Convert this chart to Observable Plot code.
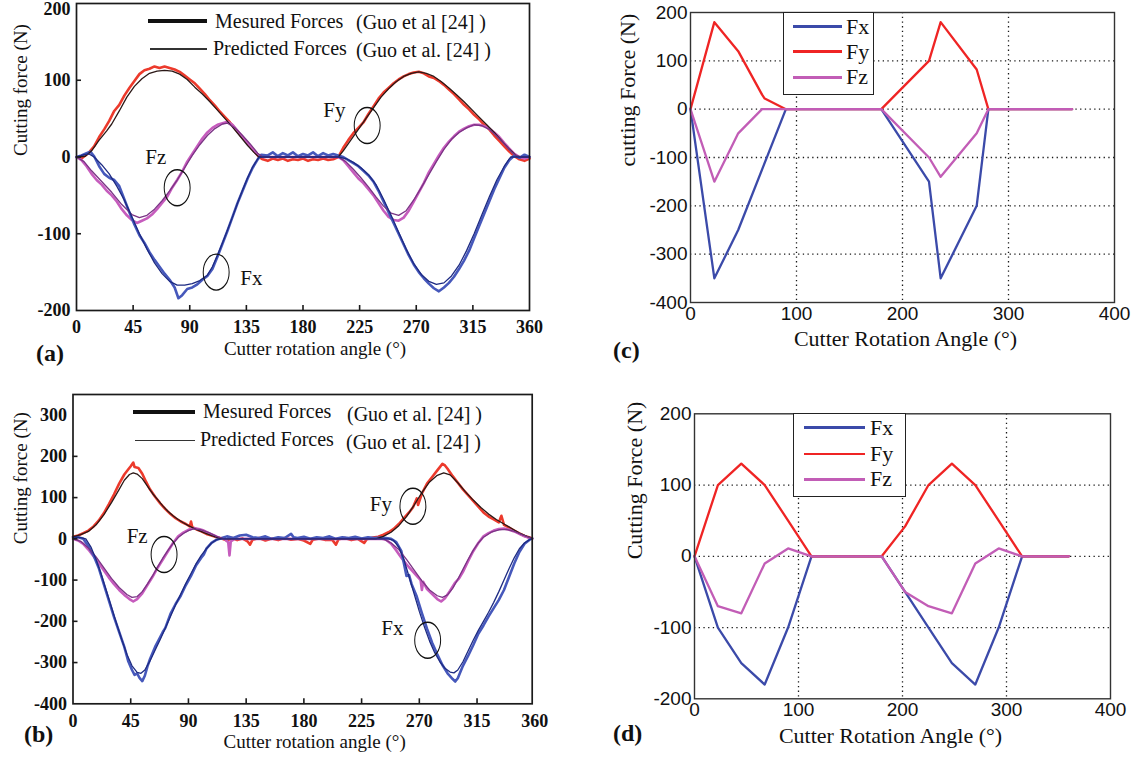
<!DOCTYPE html>
<html><head><meta charset="utf-8">
<script src="https://cdn.jsdelivr.net/npm/d3@7"></script>
<script src="https://cdn.jsdelivr.net/npm/@observablehq/plot@0.6"></script>
<style>
body{margin:0;background:#fff;}
#root{position:relative;width:1139px;height:762px;overflow:hidden;background:#fff;}
.pn{position:absolute;}
.pn svg{overflow:visible;}
.t{position:absolute;white-space:nowrap;color:#111;}
</style></head>
<body><div id="root"></div>
<script>
// ---------------- tick labels ----------------
const GUO_X_TICKS = [0,45,90,135,180,225,270,315,360];
const A_Y_TICKS = [-200,-100,0,100,200];
const B_Y_TICKS = [-400,-300,-200,-100,0,100,200,300];
const SIM_X_TICKS = [0,100,200,300,400];
const C_Y_TICKS = [-400,-300,-200,-100,0,100,200];
const D_Y_TICKS = [-200,-100,0,100,200];
const SERIES_NAMES = ["Fx","Fy","Fz"];

// ---------------- panel (a): [angle, force] ----------------
const aFyMeas = [[0,0],[4,-2],[7,2],[10,6],[14,14],[18,26],[22,36],[26,47],[30,60],[34,68],[38,80],[42,90],[46,99],[50,108],[54,113],[58,115],[62,118],[66,116],[70,118],[74,116],[78,114],[82,111],[86,106],[90,101],[94,96],[98,89],[102,82],[106,74],[110,67],[114,59],[118,52],[122,45],[126,37],[130,29],[134,22],[138,14],[142,6],[145,0],[148,-3],[152,-5],[156,-2],[160,-4],[164,-2],[168,-5],[172,-3],[176,-4],[180,-2],[184,-5],[188,-3],[192,-4],[196,-2],[200,-4],[204,-3],[208,0],[212,12],[216,22],[220,31],[224,38],[228,45],[232,56],[236,66],[240,76],[244,84],[248,90],[252,96],[256,101],[260,105],[264,108],[268,110],[272,111],[276,109],[280,105],[284,103],[288,99],[292,94],[296,88],[300,82],[304,75],[308,68],[312,62],[316,55],[320,49],[324,42],[328,36],[332,28],[336,21],[340,14],[344,7],[348,1],[352,-3],[356,-5],[360,-2]];
const aFyPred = [[0,0],[7,1],[12,8],[18,22],[24,34],[28,43],[34,60],[40,78],[46,92],[52,102],[58,109],[64,112],[70,113],[76,112],[82,108],[88,101],[94,91],[100,82],[106,72],[112,61],[118,50],[124,39],[130,27],[136,15],[141,6],[145,0],[208,0],[212,8],[218,22],[224,36],[230,50],[236,64],[242,78],[248,89],[254,98],[260,105],[266,109],[272,111],[278,109],[284,105],[290,98],[296,90],[302,81],[308,72],[314,62],[320,52],[326,42],[332,32],[338,21],[344,10],[350,1],[354,0],[360,0]];
const aFzMeas = [[0,0],[4,-4],[8,-12],[12,-22],[16,-30],[20,-36],[24,-44],[28,-50],[32,-58],[36,-68],[40,-76],[44,-82],[48,-86],[52,-83],[56,-80],[60,-75],[64,-68],[68,-60],[72,-52],[76,-40],[80,-30],[84,-19],[88,-6],[92,4],[96,14],[100,24],[104,32],[108,38],[112,42],[116,44],[120,46],[124,42],[128,34],[132,26],[136,18],[140,10],[144,3],[148,0],[178,0],[208,0],[212,-4],[216,-12],[220,-20],[224,-28],[228,-34],[232,-42],[236,-50],[240,-60],[244,-70],[248,-78],[252,-82],[256,-83],[260,-79],[264,-70],[268,-58],[272,-46],[276,-34],[280,-20],[284,-9],[288,2],[292,12],[296,20],[300,27],[304,33],[308,37],[312,40],[316,42],[320,42],[324,40],[328,37],[332,32],[336,26],[340,18],[344,11],[348,4],[352,0],[356,-2],[360,0]];
const aFzPred = [[0,0],[6,-6],[12,-18],[20,-32],[28,-46],[36,-62],[44,-75],[50,-79],[56,-76],[62,-68],[68,-57],[74,-44],[80,-30],[86,-14],[92,2],[98,16],[104,28],[110,37],[116,43],[120,44],[126,38],[132,28],[138,17],[144,5],[148,0],[208,0],[214,-6],[220,-16],[226,-27],[232,-39],[238,-52],[244,-64],[250,-73],[256,-76],[262,-70],[268,-56],[274,-40],[280,-23],[286,-6],[292,10],[298,23],[304,32],[310,38],[316,42],[322,41],[328,36],[334,27],[340,17],[346,6],[351,0],[360,0]];
const aFxMeas = [[0,0],[4,2],[8,5],[11,7],[14,1],[18,-12],[22,-22],[26,-27],[30,-30],[34,-38],[38,-55],[42,-72],[46,-88],[50,-102],[54,-112],[58,-124],[62,-134],[66,-143],[70,-152],[74,-160],[78,-170],[81,-184],[84,-180],[88,-172],[92,-170],[96,-166],[100,-160],[104,-155],[108,-146],[112,-130],[116,-113],[120,-96],[124,-78],[128,-60],[132,-44],[136,-28],[140,-14],[144,-3],[147,3],[152,2],[156,6],[160,1],[164,5],[168,2],[172,6],[176,1],[180,4],[184,2],[188,6],[192,1],[196,5],[200,2],[204,4],[208,2],[212,0],[216,-4],[220,-8],[224,-12],[228,-18],[232,-24],[236,-32],[240,-44],[244,-58],[248,-72],[252,-86],[256,-100],[260,-114],[264,-128],[268,-140],[272,-150],[276,-158],[280,-165],[284,-171],[288,-175],[292,-170],[296,-164],[300,-156],[304,-146],[308,-135],[312,-122],[316,-106],[320,-90],[324,-74],[328,-58],[332,-42],[336,-28],[340,-14],[344,-4],[348,2],[352,-1],[356,3],[360,0]];
const aFxPred = [[0,0],[6,3],[10,4],[14,0],[20,-10],[26,-22],[32,-38],[38,-56],[44,-78],[50,-100],[56,-120],[62,-138],[68,-152],[74,-162],[80,-167],[86,-167],[92,-165],[98,-161],[104,-154],[108,-143],[112,-128],[116,-112],[120,-95],[124,-78],[128,-60],[132,-43],[136,-27],[140,-13],[145,0],[208,0],[214,-2],[220,-7],[226,-14],[232,-23],[238,-36],[244,-55],[250,-76],[256,-98],[262,-120],[268,-139],[274,-153],[280,-162],[286,-166],[292,-164],[298,-155],[304,-141],[310,-122],[316,-100],[322,-76],[328,-52],[334,-30],[340,-12],[345,0],[360,0]];
// circled annotations: [angle, force] and labels [text, angle, force]
const aEllipses = [[80,-40],[231,41],[111,-150]];
const aLabels = [["Fz",63,0],["Fy",205,61],["Fx",139,-158]];

// ---------------- panel (b) ----------------
const bFyMeas = [[0,5],[4,8],[8,14],[12,20],[16,30],[20,44],[24,62],[28,84],[32,108],[36,134],[40,156],[43,168],[45,176],[47,185],[48,174],[51,172],[54,158],[57,138],[60,120],[64,102],[68,86],[72,72],[76,60],[80,50],[84,42],[88,36],[91,30],[92,42],[93,28],[97,22],[100,18],[104,12],[108,8],[112,4],[116,1],[120,-4],[124,2],[128,-3],[132,1],[136,-6],[138,-14],[140,-2],[145,2],[150,-4],[155,1],[160,-3],[165,2],[170,-2],[175,0],[180,-4],[185,-12],[187,-2],[192,1],[197,-3],[202,-2],[205,-14],[207,-1],[212,2],[217,-3],[222,0],[227,-10],[229,-1],[234,3],[238,5],[242,10],[246,16],[250,24],[254,36],[258,50],[262,64],[265,76],[268,98],[269,82],[272,110],[276,134],[280,150],[284,166],[286,174],[288,182],[290,178],[292,170],[296,152],[300,136],[304,120],[308,106],[312,92],[316,78],[320,64],[324,54],[328,47],[332,40],[334,56],[336,34],[340,27],[344,20],[348,13],[352,7],[356,3],[358,1]];
const bFyPred = [[0,5],[6,10],[12,18],[18,34],[24,58],[30,88],[36,120],[40,142],[44,156],[47,160],[50,157],[54,146],[58,128],[62,110],[66,95],[70,80],[74,67],[78,56],[82,47],[86,39],[90,32],[96,23],[102,15],[108,8],[114,2],[118,0],[236,0],[242,6],[248,16],[254,32],[260,54],[266,82],[272,112],[278,138],[284,154],[289,160],[294,155],[300,136],[306,114],[312,94],[318,76],[324,60],[330,47],[336,36],[342,25],[348,14],[354,6],[358,2]];
const bFzMeas = [[0,0],[4,-4],[8,-12],[12,-26],[16,-42],[20,-58],[24,-76],[28,-94],[32,-110],[36,-124],[40,-136],[44,-146],[47,-152],[50,-146],[54,-132],[58,-112],[62,-92],[66,-70],[70,-50],[74,-30],[78,-10],[82,6],[86,15],[90,22],[94,26],[98,24],[102,20],[106,14],[110,8],[114,2],[118,0],[121,-8],[122,-40],[123,-6],[126,0],[240,0],[244,-2],[248,-12],[252,-28],[256,-46],[260,-62],[264,-76],[268,-90],[271,-100],[272,-124],[273,-104],[276,-122],[280,-134],[284,-146],[287,-152],[290,-144],[294,-126],[298,-106],[301,-96],[304,-80],[308,-54],[312,-30],[316,-10],[320,6],[324,14],[328,20],[332,24],[336,25],[340,22],[344,18],[348,12],[352,6],[356,2],[358,0]];
const bFzPred = [[0,0],[6,-6],[12,-22],[18,-44],[24,-70],[30,-96],[36,-118],[42,-135],[46,-142],[50,-140],[54,-128],[58,-110],[62,-90],[66,-68],[70,-47],[74,-28],[78,-11],[82,3],[86,13],[90,20],[94,24],[100,22],[106,15],[112,6],[118,0],[242,0],[248,-10],[254,-26],[260,-50],[266,-76],[272,-102],[278,-124],[284,-138],[288,-142],[292,-136],[296,-120],[300,-98],[304,-74],[308,-50],[312,-28],[316,-10],[320,4],[326,16],[332,22],[338,23],[344,18],[350,10],[356,3],[358,1]];
const bFxMeas = [[0,4],[4,4],[8,0],[12,-18],[16,-40],[20,-70],[24,-110],[26,-130],[28,-150],[32,-190],[36,-226],[40,-262],[43,-296],[46,-318],[48,-330],[50,-326],[52,-338],[54,-345],[56,-332],[58,-310],[60,-292],[64,-262],[68,-238],[70,-226],[72,-216],[76,-182],[80,-158],[84,-138],[88,-112],[92,-90],[96,-64],[100,-46],[102,-38],[104,-24],[108,-10],[112,-2],[116,2],[120,6],[125,2],[130,8],[135,10],[140,4],[145,2],[150,6],[155,0],[160,4],[165,2],[170,12],[172,4],[175,2],[180,5],[185,0],[190,4],[195,2],[200,6],[205,0],[210,4],[215,2],[220,5],[225,1],[230,4],[235,2],[240,3],[244,2],[248,0],[252,-8],[256,-30],[258,-60],[260,-90],[262,-88],[264,-110],[268,-140],[272,-180],[276,-218],[280,-252],[284,-280],[288,-306],[292,-326],[296,-340],[298,-346],[300,-338],[304,-308],[308,-284],[312,-258],[316,-230],[320,-210],[324,-188],[328,-168],[332,-148],[336,-124],[340,-92],[344,-60],[348,-32],[352,-12],[356,-2],[358,1]];
const bFxPred = [[0,4],[6,3],[10,0],[14,-20],[18,-50],[22,-86],[26,-126],[30,-166],[34,-206],[38,-244],[42,-280],[46,-308],[50,-324],[53,-326],[56,-318],[60,-296],[64,-270],[68,-244],[72,-216],[76,-188],[80,-160],[84,-134],[88,-108],[92,-84],[96,-60],[100,-40],[104,-24],[108,-10],[112,-2],[116,0],[246,0],[250,-4],[254,-20],[258,-50],[262,-92],[266,-134],[270,-176],[274,-214],[278,-248],[282,-276],[286,-298],[290,-314],[294,-323],[297,-325],[300,-318],[304,-298],[308,-272],[312,-246],[316,-222],[320,-200],[324,-178],[328,-154],[332,-128],[336,-100],[340,-72],[344,-46],[348,-24],[352,-10],[356,-2],[358,0]];
const bEllipses = [[71,-38],[265,79],[276.5,-246]];
const bLabels = [["Fz",50,6],["Fy",240,84],["Fx",249,-216]];

// ---------------- panel (c) ----------------
const cFx = [[0,0],[22.5,-350],[45,-250],[90,0],[180,0],[225,-150],[236,-350],[270,-200],[281,0],[360,0]];
const cFy = [[0,0],[22.5,180],[45,120],[67.5,30],[70,22],[90,0],[180,0],[225,100],[236,180],[270,82],[281,0],[360,0]];
const cFz = [[0,0],[22.5,-150],[45,-50],[67.5,0],[180,0],[225,-100],[236,-140],[270,-50],[281,0],[360,0]];

// ---------------- panel (d) ----------------
const dFx = [[0,0],[22.5,-100],[45,-150],[67.5,-180],[90,-100],[112.5,0],[180,0],[202.5,-50],[225,-100],[247.5,-150],[270,-180],[292.5,-100],[315,0],[360,0]];
const dFy = [[0,0],[22.5,100],[45,130],[67.5,100],[90,50],[112.5,0],[180,0],[202.5,42],[225,100],[247.5,130],[270,100],[292.5,50],[315,0],[360,0]];
const dFz = [[0,0],[22.5,-70],[45,-80],[67.5,-10],[90,11],[112.5,0],[180,0],[202.5,-50],[225,-70],[247.5,-80],[270,-10],[292.5,11],[315,0],[360,0]];

// ---------------- colours ----------------
const MEAS = {Fx:"#4658bb", Fy:"#ec3a2c", Fz:"#c65cbd"};
const PRED = {Fx:"#1d2a82", Fy:"#2b1816", Fz:"#7a3485"};
const SIM = {Fx:"#3b4aa9", Fy:"#ef2424", Fz:"#c25db6"};

const SERIF = '"Liberation Serif", "Times New Roman", serif';
const SANS = '"Liberation Sans", Arial, sans-serif';
const root = document.getElementById("root");
const A = d => d[0], V = d => d[1];

function place(svg, left, top) {
  const wrap = document.createElement("div");
  wrap.className = "pn";
  wrap.style.left = left + "px";
  wrap.style.top = top + "px";
  wrap.appendChild(svg);
  root.appendChild(wrap);
  svg.querySelectorAll(".ann-ell circle").forEach(c => {
    const cx = c.getAttribute("cx"), cy = c.getAttribute("cy");
    if (cx !== null && cy !== null) {
      c.setAttribute("transform", `translate(${cx},${cy}) scale(0.72,1) translate(${-cx},${-cy})`);
    } else {
      c.setAttribute("transform", (c.getAttribute("transform") || "") + " scale(0.72,1)");
    }
  });
}
function text(str, left, cy, size, weight, family) {
  const d = document.createElement("div");
  d.className = "t";
  d.textContent = str;
  d.style.left = left + "px";
  d.style.top = (cy - size * 0.6) + "px";
  d.style.font = `${weight} ${size}px ${family}`;
  d.style.lineHeight = (size * 1.2) + "px";
  root.appendChild(d);
}
function hline(x1, x2, y, w, color) {
  const d = document.createElement("div");
  d.style.cssText = `position:absolute;left:${x1}px;top:${y - w/2}px;width:${x2-x1}px;height:${w}px;background:${color};`;
  root.appendChild(d);
}
function box(x1, y1, x2, y2) {
  const d = document.createElement("div");
  d.style.cssText = `position:absolute;left:${x1}px;top:${y1}px;width:${x2-x1}px;height:${y2-y1}px;border:1.3px solid #222;background:#fff;box-sizing:border-box;`;
  root.appendChild(d);
}

function guoPanel(cfg) {
  const fw = cfg.width - cfg.mL - cfg.mR, fh = cfg.height - cfg.mT - cfg.mB;
  const marks = [];
  for (const k of ["Fy","Fz","Fx"]) marks.push(Plot.line(cfg.meas[k], {x:A, y:V, stroke:MEAS[k], strokeWidth:2.6, strokeLinejoin:"round"}));
  for (const k of ["Fy","Fz","Fx"]) marks.push(Plot.line(cfg.pred[k], {x:A, y:V, stroke:PRED[k], strokeWidth:1.3, strokeLinejoin:"round"}));
  const topTick = cfg.yTicks[cfg.yTicks.length - 1];
  const yLabelTicks = cfg.topLabelDy ? cfg.yTicks.slice(0, -1) : cfg.yTicks;
  marks.push(
    Plot.frame({stroke:"#1a1a1a", strokeWidth:1.7}),
    Plot.tickX(GUO_X_TICKS.slice(1,-1), {x:d=>d, stroke:"#1a1a1a", strokeWidth:1.6, insetTop: fh - 5}),
    Plot.tickY(cfg.yTicks.slice(1,-1), {y:d=>d, stroke:"#1a1a1a", strokeWidth:1.6, insetRight: fw - 5}),
    Plot.axisX({ticks: GUO_X_TICKS, tickSize:0, tickPadding:10, fontSize:18, fontWeight:"bold", tickFormat:d=>String(d), label:null}),
    Plot.axisY({ticks: yLabelTicks, tickSize:0, tickPadding:6, fontSize:18, fontWeight:"bold", tickFormat:d=>String(d), label:null})
  );
  if (cfg.topLabelDy) marks.push(Plot.axisY({ticks: [topTick], tickSize:0, tickPadding:6, dy: cfg.topLabelDy, fontSize:18, fontWeight:"bold", tickFormat:d=>String(d), label:null}));
  marks.push(
    Plot.dot(cfg.ellipses, {x:A, y:V, r:18, stroke:"#111", strokeWidth:1.4, fill:"none", className:"ann-ell"}),
    Plot.text(cfg.labels, {x:d=>d[1], y:d=>d[2], text:d=>d[0], fontSize:21, fill:"#111"}),
    Plot.text(["Cutter rotation angle (°)"], {text:d=>d, frameAnchor:"bottom", dx:cfg.xtDx, dy:cfg.xtDy, fontSize:19, fill:"#111"}),
    Plot.text(["Cutting force (N)"], {text:d=>d, frameAnchor:"left", dx:cfg.ytDx, dy:cfg.ytDy, rotate:-90, fontSize:19, fill:"#111"})
  );
  return Plot.plot({
    width: cfg.width, height: cfg.height,
    marginLeft: cfg.mL, marginRight: cfg.mR, marginTop: cfg.mT, marginBottom: cfg.mB,
    x: {domain: cfg.xDomain}, y: {domain: cfg.yDomain},
    style: {fontFamily: SERIF, fontSize: "18px", background: "transparent", color: "#111", overflow: "visible"},
    marks
  });
}

function simPanel(cfg) {
  const dotted = {stroke:"#000", strokeOpacity:0.9, strokeWidth:1.3, strokeDasharray:"1.3,3.4"};
  return Plot.plot({
    width: cfg.width, height: cfg.height,
    marginLeft: cfg.mL, marginRight: cfg.mR, marginTop: cfg.mT, marginBottom: cfg.mB,
    x: {domain: [0,400]}, y: {domain: cfg.yDomain},
    style: {fontFamily: SERIF, fontSize: "18px", background: "transparent", color: "#111", overflow: "visible"},
    marks: [
      Plot.gridX({ticks: SIM_X_TICKS.slice(1,-1), ...dotted}),
      Plot.gridY({ticks: cfg.yTicks.slice(1,-1), ...dotted}),
      ...SERIES_NAMES.map(k => Plot.line(cfg.data[k], {x:A, y:V, stroke:SIM[k], strokeWidth:2.3, strokeLinejoin:"round"})),
      Plot.frame({stroke:"#333", strokeWidth:1.4}),
      Plot.axisX({ticks: SIM_X_TICKS, tickSize:0, tickPadding:4, fontSize:19, fontFamily:SANS, tickFormat:d=>String(d), label:null}),
      Plot.axisY({ticks: cfg.yTicks, tickSize:0, tickPadding:3, fontSize:19, fontFamily:SANS, tickFormat:d=>String(d), label:null}),
      Plot.text(["Cutter Rotation Angle (°)"], {text:d=>d, frameAnchor:"bottom", dx:cfg.xtDx, dy:cfg.xtDy, fontSize:22, fill:"#111"}),
      Plot.text([cfg.yTitle], {text:d=>d, frameAnchor:"left", dx:cfg.ytDx, dy:cfg.ytDy, rotate:-90, fontSize:22, fill:"#111"})
    ]
  });
}

// (a)
place(guoPanel({
  width:570, height:380, mL:76, mR:41, mT:3, mB:70,
  xDomain:[0,360], yDomain:[-200,200], yTicks:A_Y_TICKS, topLabelDy:6,
  meas:{Fx:aFxMeas, Fy:aFyMeas, Fz:aFzMeas}, pred:{Fx:aFxPred, Fy:aFyPred, Fz:aFzPred},
  ellipses:aEllipses, labels:aLabels, xtDx:12, xtDy:44, ytDx:-56, ytDy:-1
}), 0, 0);
// (b)
place(guoPanel({
  width:570, height:382, mL:72.5, mR:38.3, mT:14, mB:58.7,
  xDomain:[0,358], yDomain:[-400,350], yTicks:B_Y_TICKS, topLabelDy:0,
  meas:{Fx:bFxMeas, Fy:bFyMeas, Fz:bFzMeas}, pred:{Fx:bFxPred, Fy:bFyPred, Fz:bFzPred},
  ellipses:bEllipses, labels:bLabels, xtDx:12, xtDy:44, ytDx:-52.5, ytDy:-5
}), 0, 380);
// (c)
place(simPanel({
  width:569, height:380, mL:120, mR:25, mT:12, mB:78,
  yDomain:[-400,200], yTicks:C_Y_TICKS, data:{Fx:cFx, Fy:cFy, Fz:cFz},
  yTitle:"cutting Force (N)", xtDx:3, xtDy:43, ytDx:-63, ytDy:9
}), 570, 0);
// (d)
place(simPanel({
  width:569, height:382, mL:124, mR:29, mT:33.3, mB:63.7,
  yDomain:[-200,200], yTicks:D_Y_TICKS, data:{Fx:dFx, Fy:dFy, Fz:dFz},
  yTitle:"Cutting Force (N)", xtDx:-12, xtDy:44, ytDx:-60, ytDy:3
}), 570, 380);

// legends (a)
hline(148, 207, 21, 3.6, "#111");
text("Mesured Forces", 215, 21, 20, "normal", SERIF);
text("(Guo et al  [24] )", 356, 22, 20, "normal", SERIF);
hline(150, 207, 49, 1.4, "#333");
text("Predicted Forces", 213, 48, 20, "normal", SERIF);
text("(Guo et al. [24] )", 356, 50, 20, "normal", SERIF);
// legends (b)
hline(133, 195, 412, 3.6, "#111");
text("Mesured Forces", 203, 411, 20, "normal", SERIF);
text("(Guo et al. [24] )", 347, 414, 20, "normal", SERIF);
hline(135, 195, 440.5, 1.4, "#333");
text("Predicted Forces", 200, 439, 20, "normal", SERIF);
text("(Guo et al. [24] )", 346, 442, 20, "normal", SERIF);
// legend (c)
box(783, 12, 874, 95);
[26.7, 51.7, 77.3].forEach((y, i) => { hline(793, 842, y, 2.6, SIM[SERIES_NAMES[i]]); text(SERIES_NAMES[i], 846, y, 22, "normal", SERIF); });
// legend (d)
box(793, 413, 906, 497);
[427.7, 454, 479.3].forEach((y, i) => { hline(804, 865, y, 2.6, SIM[SERIES_NAMES[i]]); text(SERIES_NAMES[i], 870, y, 22, "normal", SERIF); });

// panel letters
text("(a)", 36, 353, 24, "bold", SERIF);
text("(b)", 24, 734, 24, "bold", SERIF);
text("(c)", 613, 350, 24, "bold", SERIF);
text("(d)", 613, 733, 24, "bold", SERIF);
</script>
</body></html>
